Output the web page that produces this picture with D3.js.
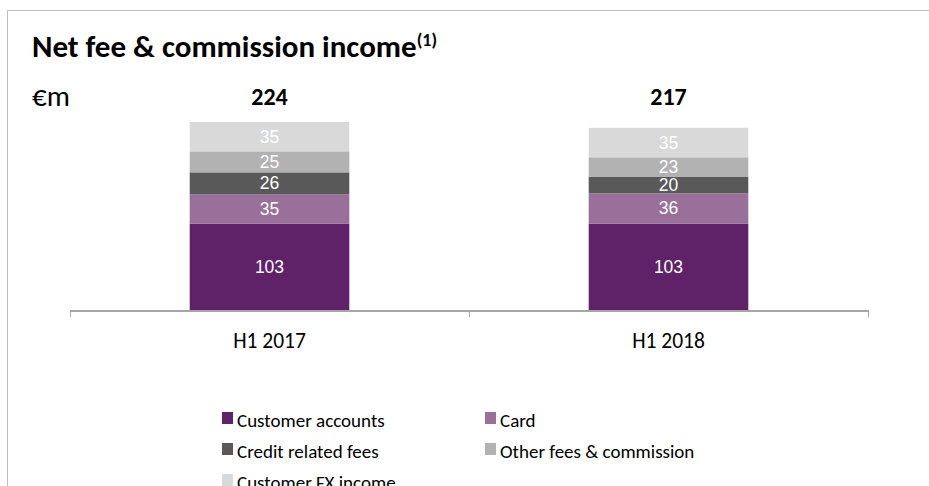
<!DOCTYPE html>
<html lang="en">
<head>
    <meta charset="UTF-8" />
    <title>Net fee & commission income</title>
    <script src="https://cdn.jsdelivr.net/npm/d3@7/dist/d3.min.js"></script>
    <style>
        body {
            margin: 0;
            background: #fff;
            overflow: hidden;
        }

        .calibri {
            font-family: Carlito, Lato, 'Open Sans', sans-serif;
        }

        .seg-label {
            font-family: 'Liberation Sans', Arial, sans-serif;
            fill: #fff;
        }
    </style>
</head>
<body>
<svg width="929" height="486"></svg>
<script>
    const categories = ["H1 2017", "H1 2018"];
    const seriesNames = ["Customer accounts", "Card", "Credit related fees", "Other fees & commission", "Customer FX income"];
    const seriesColors = ["#5f2167", "#98709a", "#595959", "#b2b2b2", "#d9d9d9"];
    const customerAccounts = [103, 103];
    const card = [35, 36];
    const creditFees = [26, 20];
    const otherFees = [25, 23];
    const fxIncome = [35, 35];
    const totals = [224, 217];

    const svg = d3.select("svg");

    // frame (top + left border)
    svg.append("path")
        .attr("d", "M7.5,486 V10.5 H929")
        .attr("fill", "none")
        .attr("stroke", "#c4bcc4")
        .attr("stroke-width", 1);

    // title
    const title = svg.append("text")
        .attr("class", "calibri")
        .attr("x", 32)
        .attr("y", 57)
        .style("font-size", "31px")
        .style("font-weight", "bold")
        .attr("fill", "#000")
        .text("Net fee & commission income");
    title.append("tspan")
        .attr("dy", -11)
        .style("font-size", "18px")
        .text("(1)");

    svg.append("text")
        .attr("class", "calibri")
        .attr("x", 32)
        .attr("y", 106)
        .style("font-size", "29px")
        .attr("fill", "#000")
        .text("€m");

    const rows = categories.map((c, i) => ({
        cat: c,
        s0: customerAccounts[i],
        s1: card[i],
        s2: creditFees[i],
        s3: otherFees[i],
        s4: fxIncome[i],
        total: totals[i]
    }));
    const keys = ["s0", "s1", "s2", "s3", "s4"];

    const x = d3.scaleBand()
        .domain(categories)
        .range([70, 868])
        .paddingInner(0.6)
        .paddingOuter(0.3);

    const y = d3.scaleLinear()
        .domain([0, d3.max(totals)])
        .range([310, 122]);

    const stacked = d3.stack().keys(keys)(rows);

    const layers = svg.append("g").selectAll("g")
        .data(stacked)
        .enter().append("g")
        .attr("fill", (d, i) => seriesColors[i]);

    layers.selectAll("rect")
        .data(d => d)
        .enter().append("rect")
        .attr("x", d => x(d.data.cat))
        .attr("width", x.bandwidth())
        .attr("y", d => y(d[1]))
        .attr("height", d => y(d[0]) - y(d[1]));

    layers.selectAll("text")
        .data(d => d)
        .enter().append("text")
        .attr("class", "seg-label")
        .attr("x", d => x(d.data.cat) + x.bandwidth() / 2)
        .attr("y", d => (y(d[0]) + y(d[1])) / 2)
        .attr("text-anchor", "middle")
        .attr("dominant-baseline", "central")
        .style("font-size", "17.5px")
        .text(d => d[1] - d[0]);

    // totals
    svg.append("g").selectAll("text")
        .data(rows)
        .enter().append("text")
        .attr("class", "calibri")
        .attr("x", d => x(d.cat) + x.bandwidth() / 2)
        .attr("y", 105)
        .attr("text-anchor", "middle")
        .style("font-size", "24px")
        .style("font-weight", "bold")
        .attr("fill", "#000")
        .text(d => d.total);

    // category axis
    const edges = d3.scaleLinear().domain([0, categories.length]).range([70, 868]);
    const axis = svg.append("g");
    axis.append("line")
        .attr("x1", 70).attr("x2", 868)
        .attr("y1", 311).attr("y2", 311)
        .attr("stroke", "#a6a6a6")
        .attr("stroke-width", 2);
    axis.selectAll(".tick")
        .data(d3.range(categories.length + 1))
        .enter().append("line")
        .attr("x1", d => Math.round(edges(d)) + 0.5)
        .attr("x2", d => Math.round(edges(d)) + 0.5)
        .attr("y1", 310)
        .attr("y2", 317)
        .attr("stroke", "#a6a6a6")
        .attr("stroke-width", 1);
    axis.selectAll(".cat")
        .data(categories)
        .enter().append("text")
        .attr("class", "calibri")
        .attr("x", d => x(d) + x.bandwidth() / 2)
        .attr("y", 348)
        .attr("text-anchor", "middle")
        .style("font-size", "21.5px")
        .attr("fill", "#000")
        .text(d => d);

    // legend
    const legend = svg.append("g").selectAll("g")
        .data(seriesNames)
        .enter().append("g")
        .attr("transform", (d, i) => `translate(${i % 2 === 0 ? 222 : 485}, ${412 + Math.floor(i / 2) * 31})`);
    legend.append("rect")
        .attr("width", 11)
        .attr("height", 12)
        .attr("fill", (d, i) => seriesColors[i]);
    legend.append("text")
        .attr("class", "calibri")
        .attr("x", 15)
        .attr("y", 15)
        .style("font-size", "19px")
        .attr("fill", "#000")
        .text(d => d);
</script>
</body>
</html>
